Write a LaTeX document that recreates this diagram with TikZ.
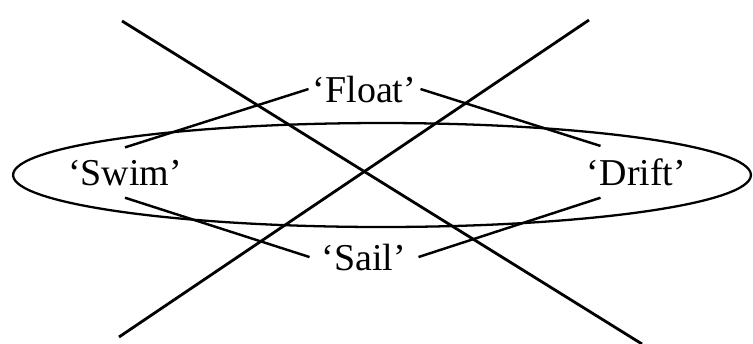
\documentclass[tikz,border=0pt]{standalone}
\usepackage{fontspec}
\setmainfont{Liberation Serif}
\usepackage{tikz}

\begin{document}
\begin{tikzpicture}[x=0.02cm,y=-0.02cm,
        mot/.style={inner sep=0.24cm,anchor=base,font=\fontsize{21.6}{26}\selectfont},
        trait/.style={line width=1.4pt}]

        \useasboundingbox (0,0) rectangle (753,343);

        % Définir les extrémités des deux grandes droites
        \coordinate (A1) at (122,21);
        \coordinate (A2) at (642,344);
        \coordinate (B1) at (119,337);
        \coordinate (B2) at (589,20);

        % Placer les mots
        \node[mot,inner xsep=0.08cm] (float) at (364.5,102) {‘Float’};
        \node[mot] (swim) at (125,185) {‘Swim’};
        \node[mot] (drift) at (636.5,185) {‘Drift’};
        \node[mot] (sail) at (364,270) {‘Sail’};

        % Dessiner l'ellipse
        \draw[line width=1.3pt] (382,175) ellipse [x radius=7.38cm, y radius=1.04cm];

        % Relier les mots
        \draw[trait] (float.west) -- (swim.north);
        \draw[trait] (float.east) -- ([xshift=-0.72cm]drift.north);
        \draw[trait] (swim.south) -- (sail.west);
        \draw[trait] (sail.east) -- ([xshift=-0.72cm]drift.south);

        % Dessiner les deux droites qui se croisent
        \draw[line width=1.6pt] (A1) -- (A2);
        \draw[line width=1.6pt] (B1) -- (B2);
    \end{tikzpicture}
\end{document}
